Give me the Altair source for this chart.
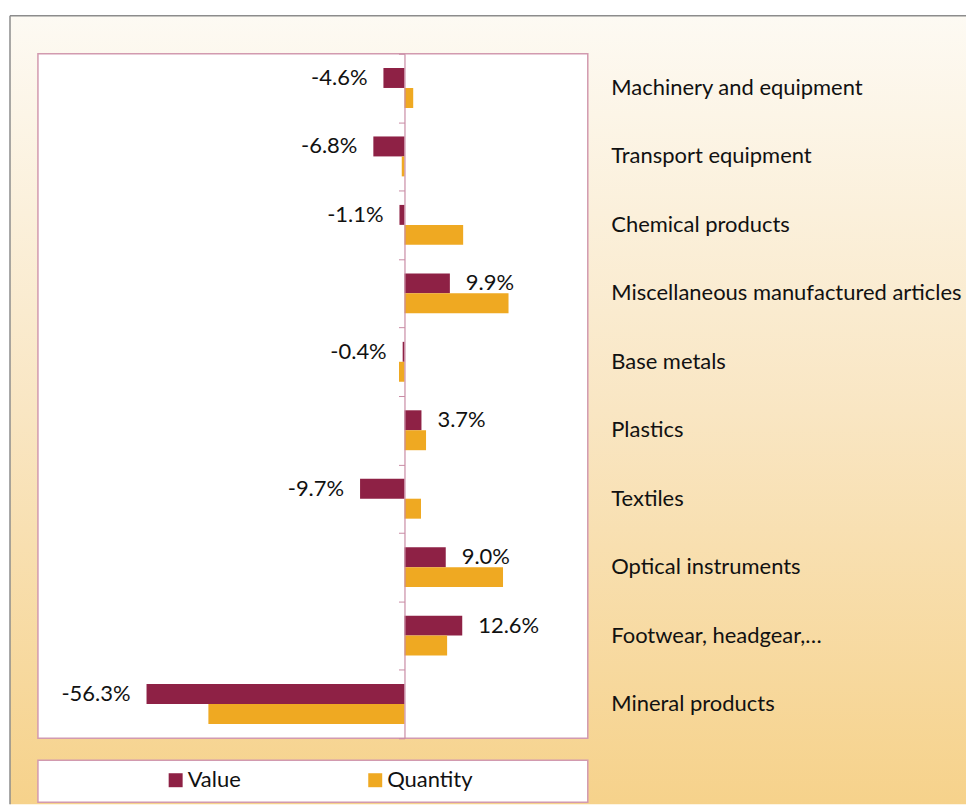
import altair as alt
import pandas as pd

categories = [
    "Machinery and equipment",
    "Transport equipment",
    "Chemical products",
    "Miscellaneous manufactured articles",
    "Base metals",
    "Plastics",
    "Textiles",
    "Optical instruments",
    "Footwear, headgear,…",
    "Mineral products",
]
value = [-4.6, -6.8, -1.1, 9.9, -0.4, 3.7, -9.7, 9.0, 12.6, -56.3]
quantity = [1.9, -0.6, 12.8, 22.7, -1.2, 4.7, 3.6, 21.5, 9.3, -42.8]
series = ["Value", "Quantity"]
colors = ["#8E2145", "#EFA922"]

rows = []
for c, v, q in zip(categories, value, quantity):
    rows.append({"category": c, "series": "Value", "pct": v, "label": f"{v:.1f}%"})
    rows.append({"category": c, "series": "Quantity", "pct": q, "label": f"{q:.1f}%"})
df = pd.DataFrame(rows)
one = pd.DataFrame({"k": [0]})

W, H = 551, 686
FONT = "Lato"
FS = 22
PINK = "#D29AAF"

xscale = alt.Scale(domain=[-80, 40], nice=False, zero=False)
yscale = alt.Scale(paddingInner=0, paddingOuter=0)
yoff_scale = alt.Scale(domain=series, paddingInner=0, paddingOuter=0.715)

grad = alt.LinearGradient(
    gradient="linear",
    stops=[
        alt.GradientStop(color="#FDFAF3", offset=0),
        alt.GradientStop(color="#F9E6C3", offset=0.5),
        alt.GradientStop(color="#F6D28B", offset=1),
    ],
    x1=0, x2=0, y1=0, y2=1,
)

bg = alt.Chart(one).mark_rect(color=grad).encode(
    x=alt.value(-28), x2=alt.value(930), y=alt.value(-38), y2=alt.value(752)
)
frame_left = alt.Chart(one).mark_rule(color="#8C8C8C", strokeWidth=1.5).encode(
    x=alt.value(-28), y=alt.value(-38), y2=alt.value(752)
)
frame_top = alt.Chart(one).mark_rule(color="#8C8C8C", strokeWidth=1.5).encode(
    x=alt.value(-28), x2=alt.value(930), y=alt.value(-38)
)
plot_box = alt.Chart(one).mark_rect(fill="white", stroke=PINK, strokeWidth=1.5).encode(
    x=alt.value(0), x2=alt.value(W), y=alt.value(0), y2=alt.value(H)
)
legend_box = alt.Chart(one).mark_rect(fill="white", stroke=PINK, strokeWidth=1.5).encode(
    x=alt.value(0), x2=alt.value(W), y=alt.value(708), y2=alt.value(750)
)

bars = alt.Chart(df).mark_bar().encode(
    x=alt.X("pct:Q", scale=xscale, axis=None),
    y=alt.Y(
        "category:N", sort=categories, scale=yscale,
        axis=alt.Axis(
            orient="right", title=None, domain=False, ticks=False,
            labelPadding=23, labelFont=FONT, labelFontSize=FS,
            labelColor="#111111", labelLimit=500, zindex=1,
        ),
    ),
    yOffset=alt.YOffset("series:N", scale=yoff_scale, sort=series),
    color=alt.Color(
        "series:N", sort=series,
        scale=alt.Scale(domain=series, range=colors),
        legend=alt.Legend(
            title=None, orient="none", legendX=127, legendY=717,
            direction="horizontal", symbolType="square", symbolSize=196,
            symbolStrokeWidth=0, labelFont=FONT, labelFontSize=FS,
            labelColor="#111111", labelOffset=1, columnPadding=123, padding=0,
        ),
    ),
)

neg_labels = alt.Chart(df).transform_filter(
    "datum.series == 'Value' && datum.pct < 0"
).mark_text(align="right", baseline="middle", dx=-16, font=FONT, fontSize=FS, color="#111111").encode(
    x=alt.X("pct:Q", scale=xscale, axis=None),
    y=alt.Y(
        "category:N", sort=categories, scale=yscale,
        axis=alt.Axis(
            orient="left", offset=-367.3, labels=False, title=None, grid=False,
            domainColor="#C98CA5", domainWidth=1.2, tickColor="#C98CA5",
            tickSize=6, tickBand="extent", zindex=1,
        ),
    ),
    yOffset=alt.YOffset("series:N", scale=yoff_scale, sort=series),
    text="label:N",
)

pos_labels = alt.Chart(df).transform_filter(
    "datum.series == 'Value' && datum.pct >= 0"
).mark_text(align="left", baseline="middle", dx=16, font=FONT, fontSize=FS, color="#111111").encode(
    x=alt.X("pct:Q", scale=xscale, axis=None),
    y=alt.Y("category:N", sort=categories, scale=yscale, axis=None),
    yOffset=alt.YOffset("series:N", scale=yoff_scale, sort=series),
    text="label:N",
)

chart = alt.layer(
    bg, frame_left, frame_top, plot_box, legend_box, bars, neg_labels, pos_labels
).resolve_axis(y="independent").properties(
    width=W, height=H,
    padding={"left": 1, "top": 6, "right": 0, "bottom": 0},
    background="white",
).configure_view(stroke=None)

chart.save("out.html", embed_options={"renderer": "svg", "actions": False})
